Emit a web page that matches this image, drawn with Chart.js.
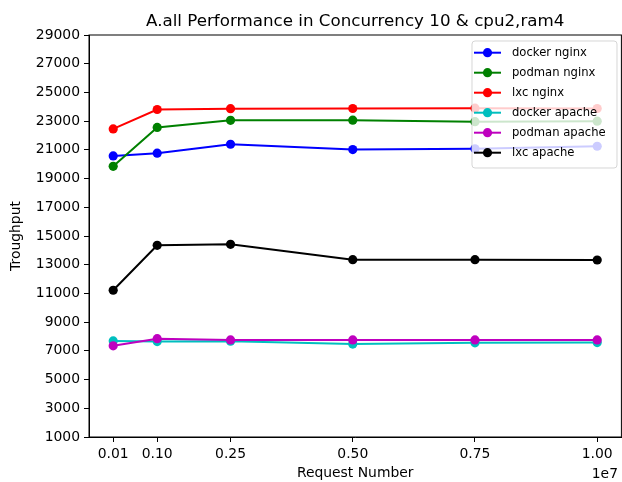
<!DOCTYPE html>
<html>
<head>
<meta charset="utf-8">
<script src="https://cdn.jsdelivr.net/npm/chart.js@4/dist/chart.umd.min.js"></script>
<style>
  html, body { margin: 0; padding: 0; background: #fff; overflow: hidden; }
  #wrap { width: 626px; height: 482px; }
</style>
</head>
<body>
<div id="wrap"><canvas id="line-chart" width="626" height="482"></canvas></div>
<script>
// Request counts on the x axis
const requests = [100000, 1000000, 2500000, 5000000, 7500000, 10000000];

// Throughput per series
const dockerNginx = [20580, 20770, 21390, 21020, 21070, 21250];
const podmanNginx = [19850, 22560, 23060, 23070, 22960, 23000];
const lxcNginx = [22460, 23810, 23870, 23880, 23900, 23880];
const dockerApache = [7690, 7650, 7670, 7470, 7560, 7580];
const podmanApache = [7350, 7850, 7760, 7760, 7760, 7760];
const lxcApache = [11220, 14350, 14420, 13350, 13350, 13330];

const seriesNames = ['docker nginx', 'podman nginx', 'lxc nginx', 'docker apache', 'podman apache', 'lxc apache'];
const seriesData = [dockerNginx, podmanNginx, lxcNginx, dockerApache, podmanApache, lxcApache];
const seriesColors = ['#0000ff', '#008000', '#ff0000', '#00bfbf', '#bf00bf', '#000000'];

// y tick labels 1000 .. 29000
const yTicks = [1000, 3000, 5000, 7000, 9000, 11000, 13000, 15000, 17000, 19000, 21000, 23000, 25000, 27000, 29000];

const FONT = 'DejaVu Sans';

const datasets = seriesNames.map((name, i) => ({
  label: name,
  data: requests.map((x, j) => ({ x: x, y: seriesData[i][j] })),
  borderColor: seriesColors[i],
  backgroundColor: seriesColors[i],
  pointBackgroundColor: seriesColors[i],
  pointBorderWidth: 0,
  pointRadius: 4.6,
  borderWidth: 2,
  tension: 0,
  order: seriesNames.length - i
}));

// frame, title, offset text and matplotlib-like legend
const decorations = {
  id: 'decorations',
  afterDatasetsDraw(chart) {
    const ctx = chart.ctx;
    const a = chart.chartArea;
    ctx.save();
    // spines
    ctx.strokeStyle = '#000';
    ctx.lineWidth = 1;
    ctx.strokeRect(a.left, a.top, a.right - a.left, a.bottom - a.top);

    // title
    ctx.fillStyle = '#000';
    ctx.font = '16.7px "' + FONT + '"';
    ctx.textAlign = 'center';
    ctx.textBaseline = 'alphabetic';
    ctx.fillText('A.all Performance in Concurrency 10 & cpu2,ram4', (a.left + a.right) / 2, 26);

    // offset text
    ctx.font = '13.9px "' + FONT + '"';
    ctx.textAlign = 'right';
    ctx.fillText('1e7', 618, 478);

    // legend
    const bx = 472, by = 41, bw = 145, bh = 127, r = 3;
    ctx.beginPath();
    ctx.moveTo(bx + r, by);
    ctx.lineTo(bx + bw - r, by);
    ctx.arcTo(bx + bw, by, bx + bw, by + r, r);
    ctx.lineTo(bx + bw, by + bh - r);
    ctx.arcTo(bx + bw, by + bh, bx + bw - r, by + bh, r);
    ctx.lineTo(bx + r, by + bh);
    ctx.arcTo(bx, by + bh, bx, by + bh - r, r);
    ctx.lineTo(bx, by + r);
    ctx.arcTo(bx, by, bx + r, by, r);
    ctx.closePath();
    ctx.fillStyle = 'rgba(255,255,255,0.8)';
    ctx.fill();
    ctx.strokeStyle = 'rgba(204,204,204,0.8)';
    ctx.stroke();

    ctx.font = '11.6px "' + FONT + '"';
    ctx.textAlign = 'left';
    ctx.textBaseline = 'middle';
    seriesNames.forEach((name, i) => {
      const yy = 52.7 + i * 20;
      ctx.strokeStyle = seriesColors[i];
      ctx.lineWidth = 2;
      ctx.beginPath();
      ctx.moveTo(474, yy);
      ctx.lineTo(501, yy);
      ctx.stroke();
      ctx.fillStyle = seriesColors[i];
      ctx.beginPath();
      ctx.arc(487.5, yy, 4.6, 0, Math.PI * 2);
      ctx.fill();
      ctx.fillStyle = '#000';
      ctx.fillText(name, 512, yy + 0.5);
    });
    ctx.restore();
  }
};

const chartCanvas = document.querySelector('#line-chart');

const lineChart = new Chart(chartCanvas, {
  type: 'line',
  data: { datasets: datasets },
  options: {
    responsive: false,
    animation: false,
    layout: { padding: { top: 35, right: 3, left: 0, bottom: 0 } },
    plugins: {
      legend: { display: false },
      tooltip: { enabled: false }
    },
    scales: {
      x: {
        type: 'linear',
        min: -395000,
        max: 10495000,
        afterBuildTicks: (scale) => { scale.ticks = requests.map(v => ({ value: v })); },
        afterFit: (scale) => { scale.height = 45; },
        grid: { drawOnChartArea: false, drawTicks: true, tickLength: 5, color: '#000' },
        border: { display: true, color: '#000', width: 1 },
        ticks: {
          color: '#000',
          padding: 4,
          maxRotation: 0,
          autoSkip: false,
          font: { family: FONT, size: 13.9 },
          callback: (value) => (value / 1e7).toFixed(2)
        },
        title: {
          display: true,
          text: 'Request Number',
          color: '#000',
          padding: { top: 0, bottom: 0 },
          font: { family: FONT, size: 13.9 }
        }
      },
      y: {
        min: 1000,
        max: 29000,
        afterBuildTicks: (scale) => { scale.ticks = yTicks.map(v => ({ value: v })); },
        afterFit: (scale) => { scale.width = 89; },
        grid: { drawOnChartArea: false, drawTicks: true, tickLength: 5, color: '#000' },
        border: { display: true, color: '#000', width: 1 },
        ticks: {
          color: '#000',
          padding: 4,
          autoSkip: false,
          font: { family: FONT, size: 13.9 },
          callback: (value) => String(value)
        },
        title: {
          display: true,
          text: 'Troughput',
          color: '#000',
          padding: { top: 8, bottom: 0 },
          font: { family: FONT, size: 13.9 }
        }
      }
    }
  },
  plugins: [decorations]
});
</script>
</body>
</html>
